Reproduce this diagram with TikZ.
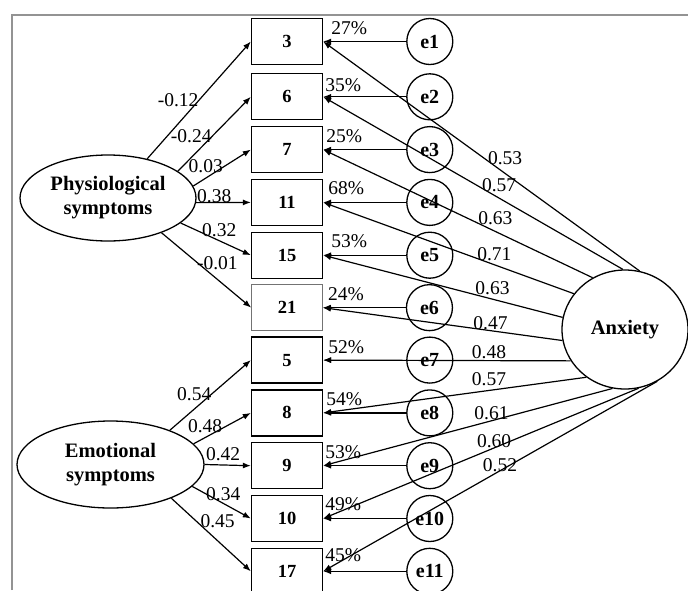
\documentclass[tikz,border=0pt]{standalone}
\usepackage{fontspec}
\setmainfont{Liberation Serif}
\usetikzlibrary{positioning,arrows.meta,shapes.geometric}

\begin{document}
\begin{tikzpicture}[
            x=1pt, y=-1pt,
            >={Latex[length=8pt,width=6pt]},
            node distance=5.5pt,
            item/.style={rectangle, draw, line width=1.3pt, minimum width=71pt, minimum height=46pt,
                         inner sep=0pt, font=\fontsize{18.5}{20}\selectfont\bfseries},
            err/.style={circle, draw, line width=1.3pt, minimum size=46pt, inner sep=0pt,
                        font=\fontsize{20}{22}\selectfont\bfseries},
            factor/.style={ellipse, draw, line width=1.3pt, inner sep=0pt, align=center,
                           font=\fontsize{20.5}{24}\selectfont\bfseries},
            coef/.style={font=\fontsize{19.5}{20}\selectfont, inner sep=1pt},
            pct/.style={font=\fontsize{19.5}{20}\selectfont, inner sep=0pt},
            arr/.style={->, line width=1.2pt}
        ]
            \useasboundingbox (0,0) rectangle (688,590);
            \draw[gray!85, line width=1.5pt] (12,590) -- (12,15) -- (688,15);

            % observed items
            \node[item] (b3) at (287,41.5) {3};
            \node[item, below=8pt of b3] (b6) {6};
            \node[item, below=of b6] (b7) {7};
            \node[item, below=of b7] (b11) {11};
            \node[item, below=of b11] (b15) {15};
            \node[item, below=of b15, draw=black!55, line width=0.6pt] (b21) {21};
            \node[item, below=of b21] (b5) {5};
            \node[item, below=of b5] (b8) {8};
            \node[item, below=of b8] (b9) {9};
            \node[item, below=of b9] (b10) {10};
            \node[item, below=of b10] (b17) {17};

            % error terms
            \node[err, right=83pt of b3] (e1) {e1};
            \node[err, right=83pt of b6] (e2) {e2};
            \node[err, right=83pt of b7] (e3) {e3};
            \node[err, right=83pt of b11] (e4) {e4};
            \node[err, right=83pt of b15] (e5) {e5};
            \node[err, right=83pt of b21] (e6) {e6};
            \node[err, right=83pt of b5] (e7) {e7};
            \node[err, right=83pt of b8] (e8) {e8};
            \node[err, right=83pt of b9] (e9) {e9};
            \node[err, right=83pt of b10] (e10) {e10};
            \node[err, right=83pt of b17] (e11) {e11};

            % explained variance
            \node[pct, below right=3pt and 8pt of b3.north east] (p3) {27\%};
            \node[pct, below right=5pt and 2pt of b6.north east] (p6) {35\%};
            \node[pct, below right=3pt and 3pt of b7.north east] (p7) {25\%};
            \node[pct, below right=3pt and 5pt of b11.north east] (p11) {68\%};
            \node[pct, below right=3pt and 8pt of b15.north east] (p15) {53\%};
            \node[pct, below right=3pt and 5pt of b21.north east] (p21) {24\%};
            \node[pct, below right=4pt and 5pt of b5.north east] (p5) {52\%};
            \node[pct, below right=3pt and 3pt of b8.north east] (p8) {54\%};
            \node[pct, below right=3pt and 2pt of b9.north east] (p9) {53\%};
            \node[pct, below right=2pt and 2pt of b10.north east] (p10) {49\%};
            \node[pct, below right=1pt and 2pt of b17.north east] (p17) {45\%};

            % latent factors
            \node[factor, minimum width=176pt, minimum height=86pt] (phys) at (108,198) {Physiological\\symptoms};
            \node[factor, minimum width=187pt, minimum height=87pt] (emo) at (110.5,464.5) {Emotional\\symptoms};
            \node[factor, minimum width=126pt, minimum height=119pt] (anx) at (625,329.5) {Anxiety};

            \draw[arr] (phys.45) -- node[coef, pos=.5, left=-1pt] {-0.12} (b3.west);
            \draw[arr] (phys.21) -- node[coef, pos=.47, left=-1pt] {-0.24} (b6.west);
            \draw[arr] (phys.8) -- node[coef, pos=.54, left=0pt] {0.03} (b7.west);
            \draw[arr] (phys.357) -- node[coef, pos=.33, above=-2pt] {0.38} (b11.west);
            \draw[arr] (phys.341) -- node[coef, pos=.55, above=2pt] {0.32} (b15.west);
            \draw[arr] (phys.327) -- node[coef, pos=.4, right=-2pt] {-0.01} (b21.west);

            \draw[arr] (emo.30) -- node[coef, pos=.52, left=-1pt] {0.54} (b5.west);
            \draw[arr] (emo.14) -- node[coef, pos=.58, left=3pt] {0.48} (b8.west);
            \draw[arr] (emo.0) -- node[coef, pos=.4, above=3pt] {0.42} (b9.west);
            \draw[arr] (emo.345) -- node[coef, pos=.53, above=1pt] {0.34} (b10.west);
            \draw[arr] (emo.331) -- node[coef, pos=.31, right=3pt] {0.45} (b17.west);

            \draw[arr] (anx.76) -- node[coef, pos=.425, above=7pt] {0.53} (b3.east);
            \draw[arr] (anx.92) -- node[coef, pos=.413, above=5pt] {0.57} (b6.east);
            \draw[arr] (anx.122) -- node[coef, pos=.361, above=5pt] {0.63} (b7.east);
            \draw[arr] (anx.145) -- node[coef, pos=.317, above=2pt] {0.71} (b11.east);
            \draw[arr] (anx.169) -- node[coef, pos=.293, above=3pt] {0.63} (b15.east);
            \draw[arr] (anx.190) -- node[coef, pos=.3, above=-1pt] {0.47} (b21.east);
            \draw[arr] (anx.210) -- node[coef, pos=.33, above=0pt] {0.48} (b5.east);
            \draw[arr] (anx.231) -- node[coef, pos=.37, above=3pt] {0.57} (b8.east);
            \draw[arr] (anx.258) -- node[coef, pos=.418, above=-1pt] {0.61} (b9.east);
            \draw[arr] (anx.283) -- node[coef, pos=.458, above=-1pt] {0.60} (b10.east);
            \draw[arr] (anx.302) -- node[coef, pos=.471, above=-3pt] {0.52} (b17.east);

            \draw[arr] (e1) -- (b3);
            \draw[arr] (e2) -- (b6);
            \draw[arr] (e3) -- (b7);
            \draw[arr] (e4) -- (b11);
            \draw[arr] (e5) -- (b15);
            \draw[arr] (e6) -- (b21);
            \draw[arr] (e7) -- (b5);
            \draw[arr] (e8) -- (b8);
            \draw[arr] (e9) -- (b9);
            \draw[arr] (e10) -- (b10);
            \draw[arr] (e11) -- (b17);
        \end{tikzpicture}
\end{document}
